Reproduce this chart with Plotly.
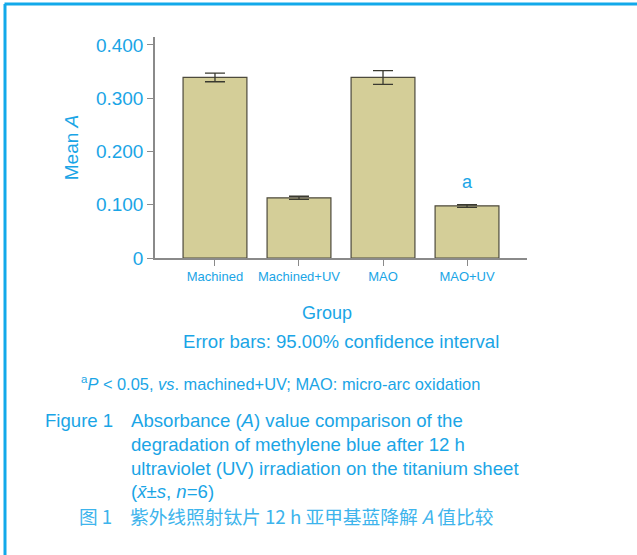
import plotly.graph_objects as go

groups = ["Machined", "Machined+UV", "MAO", "MAO+UV"]
mean_a = [0.339, 0.113, 0.339, 0.098]
ci_upper = [0.347, 0.116, 0.352, 0.100]
ci_lower = [0.331, 0.110, 0.326, 0.095]
y_ticks = [0, 0.1, 0.2, 0.3, 0.4]
y_tick_labels = ["0", "0.100", "0.200", "0.300", "0.400"]

err_plus = [u - m for u, m in zip(ci_upper, mean_a)]
err_minus = [m - l for m, l in zip(mean_a, ci_lower)]

CYAN = "#1aa5e6"
AX = "#8a8a8a"
FONT = "Liberation Sans, Arial, sans-serif"

fig = go.Figure()
fig.add_trace(go.Bar(
    x=list(range(len(groups))), y=mean_a,
    marker=dict(color="#d4ce98", line=dict(color="#4d4a3c", width=1.2)),
    width=0.76,
    error_y=dict(type="data", symmetric=False, array=err_plus, arrayminus=err_minus,
                 color="#3a3a30", thickness=1.3, width=10),
    showlegend=False,
))

fig.update_layout(
    width=637, height=555,
    margin=dict(l=155, r=110, t=37, b=297),
    paper_bgcolor="white", plot_bgcolor="white",
    font=dict(family=FONT, color=CYAN),
    bargap=0.24,
    xaxis=dict(range=[-0.714, 3.714], tickvals=list(range(len(groups))), ticktext=groups,
               showline=True, linecolor=AX, linewidth=1.5, ticks="outside", ticklen=6,
               tickcolor=AX, tickwidth=1.2, showgrid=False, zeroline=False,
               tickfont=dict(size=13, color=CYAN, family=FONT), fixedrange=True),
    yaxis=dict(range=[0, 0.415], tickvals=y_ticks, ticktext=y_tick_labels,
               showline=True, linecolor=AX, linewidth=1.5, ticks="outside", ticklen=6,
               tickcolor=AX, tickwidth=1.2, showgrid=False, zeroline=False,
               tickfont=dict(size=19, color=CYAN, family=FONT),
               title=dict(text="Mean <i>A</i>", font=dict(size=19, color=CYAN), standoff=12)),
)

# panel border (top and left), positioned in image pixels
fig.add_shape(type="line", xref="paper", yref="paper",
              x0=(4.5 - 155) / 372, x1=(637 - 155) / 372,
              y0=(555 - 297 - 4) / 221, y1=(555 - 297 - 4) / 221,
              line=dict(color="#12a9ea", width=3))
fig.add_shape(type="line", xref="paper", yref="paper",
              x0=(5 - 155) / 372, x1=(5 - 155) / 372,
              y0=(555 - 297 - 4) / 221, y1=(555 - 297 - 560) / 221,
              line=dict(color="#12a9ea", width=3))

# significance mark
fig.add_annotation(x=3, y=0.098, yshift=24, text="a", showarrow=False,
                   font=dict(size=18, color=CYAN), xref="x", yref="y")

def text_at(txt, x, y, size, xanchor="center", color=CYAN, family=FONT):
    fig.add_annotation(text=txt, x=(x - 155) / 372, y=(555 - 297 - y) / 221,
                       xref="paper", yref="paper", showarrow=False,
                       xanchor=xanchor, yanchor="middle",
                       font=dict(size=size, color=color, family=family))

text_at("Group", 327, 313, 18)
text_at("Error bars: 95.00% confidence interval", 341, 341, 18.6)
text_at("<sup>a</sup><i>P</i> < 0.05, <i>vs</i>. machined+UV; MAO: micro-arc oxidation", 79, 383, 16.4, xanchor="left")
text_at("Figure 1", 43, 420, 18.6, xanchor="left")
caption = ["Absorbance (<i>A</i>) value comparison of the",
           "degradation of methylene blue after 12 h",
           "ultraviolet (UV) irradiation on the titanium sheet",
           "(<i>x\u0304</i>\u00b1<i>s</i>, <i>n</i>=6)"]
for i, line in enumerate(caption):
    text_at(line, 129, 420 + i * 24, 18.6, xanchor="left")
text_at("图 1", 77, 515, 18.7, xanchor="left", color="#3db4ec", family="Noto Sans CJK SC")
text_at("紫外线照射钛片 12 h 亚甲基蓝降解 <i>A</i> 值比较", 128, 515, 18.7, xanchor="left",
        color="#3db4ec", family="Noto Sans CJK SC")

fig.write_html("out.html")
